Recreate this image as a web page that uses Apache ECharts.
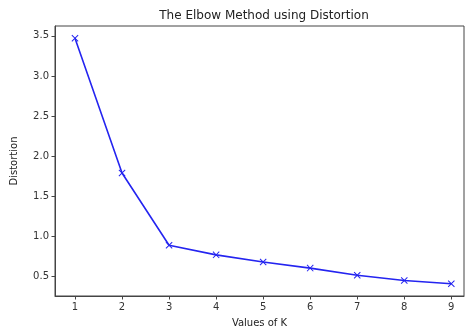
<!DOCTYPE html>
<html>
<head>
<meta charset="utf-8">
<script src="https://cdn.jsdelivr.net/npm/echarts@6/dist/echarts.min.js"></script>
<style>html,body{margin:0;padding:0;background:#fff}#c{width:469px;height:335px}</style>
</head>
<body>
<div id="c"></div>
<script>
const kValues = [1, 2, 3, 4, 5, 6, 7, 8, 9];
const distortions = [3.47, 1.79, 0.89, 0.77, 0.68, 0.605, 0.515, 0.45, 0.41];
const yTicks = [0.5, 1.0, 1.5, 2.0, 2.5, 3.0, 3.5];
const xTicks = [1, 2, 3, 4, 5, 6, 7, 8, 9];

const chart = echarts.init(document.getElementById('c'));
const font = 'DejaVu Sans';
chart.setOption({
  animation: false,
  title: {
    text: 'The Elbow Method using Distortion',
    left: 259, top: 5, textAlign: 'center',
    textStyle: {fontFamily: font, fontSize: 12, fontWeight: 'normal', color: '#222'}
  },
  grid: {left: 55, right: 5, top: 26, bottom: 39, show: true, borderColor: '#444', borderWidth: 1, backgroundColor: '#fff'},
  xAxis: {
    type: 'value', min: 0.575, max: 9.27,
    name: 'Values of K', nameLocation: 'middle', nameGap: 22,
    nameTextStyle: {fontFamily: font, fontSize: 10, color: '#222'},
    axisLine: {show: true, onZero: false, lineStyle: {color: '#444'}},
    axisTick: {show: true, length: 3.5, customValues: xTicks, lineStyle: {color: '#444'}},
    axisLabel: {customValues: xTicks, fontFamily: font, fontSize: 10, color: '#333', margin: 6,
      formatter: v => String(v)},
    splitLine: {show: false}
  },
  yAxis: {
    type: 'value', min: 0.257, max: 3.623,
    name: 'Distortion', nameLocation: 'middle', nameGap: 36, nameRotate: 90,
    nameTextStyle: {fontFamily: font, fontSize: 10, color: '#222'},
    axisLine: {show: true, onZero: false, lineStyle: {color: '#444'}},
    axisTick: {show: true, length: 3.5, customValues: yTicks, lineStyle: {color: '#444'}},
    axisLabel: {customValues: yTicks, fontFamily: font, fontSize: 10, color: '#333', margin: 6,
      formatter: v => v.toFixed(1)},
    splitLine: {show: false}
  },
  series: [{
    type: 'line',
    data: kValues.map((k, i) => [k, distortions[i]]),
    lineStyle: {color: '#2424f0', width: 1.6},
    itemStyle: {color: '#2424f0'},
    symbol: 'path://M0,1L1,0L5,4L9,0L10,1L6,5L10,9L9,10L5,6L1,10L0,9L4,5Z',
    symbolSize: 7,
    showSymbol: true
  }]
});
</script>
</body>
</html>
